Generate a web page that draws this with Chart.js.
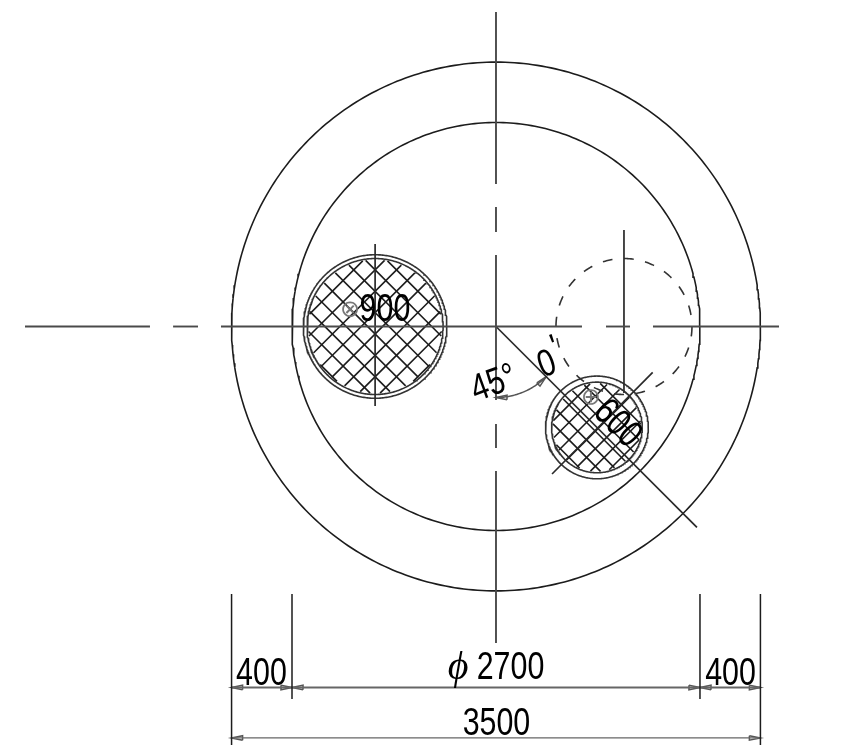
<!DOCTYPE html>
<html>
<head>
<meta charset="utf-8">
<style>
html, body { margin: 0; padding: 0; background: #fff; }
canvas { display: block; }
</style>
<script src="https://cdn.jsdelivr.net/npm/chart.js@4"></script>
</head>
<body>
<canvas id="drawing" width="847" height="747"></canvas>
<script>
// all values are millimetres on the drawing, centre of the tank = 0,0
const shellDiameters = [3500, 2700];
const bigHole = [-800, 0];
const bigHoleDiameters = [950, 900];
const smallHole = [668, -668];
const smallHoleDiameters = [680, 600];
const dashedHole = [847, 0];
const dashedHoleDiameter = 900;
const bigHatchPitch = 100;
const smallHatchPitch = 82;
const bigHatchPhase = [-35, -35];
const smallHatchPhase = [-10, -25];

// centre lines, broken into [from, to] runs
const verticalRuns = [[2081, 943], [791, 625], [473, -486], [-645, -804], [-956, -2095]];
const horizontalRuns = [[-3117, -2290], [-2137, -1972], [-1820, 569], [728, 887], [1039, 1873]];
const otherLines = [
  [[-800, 546], [-800, -526]],
  [[847, 639], [847, -440]],
  [[0, 0], [1330, -1330]],
  [[371, -976], [1037, -303]]
];

const dimX = [-1750, -1350, 1350, 1750];
const dimY = [-2389, -2723];
const extensionTop = -1770;
const extensionBottoms = [-2770, -2465, -2465, -2770];

const arrowX = [-1750, -1350, -1350, 1350, 1350, 1750, -1750, 1750];
const arrowYs = [-2389, -2389, -2389, -2389, -2389, -2389, -2723, -2723];
const arrowAngles = [180, 0, 180, 0, 180, 0, 180, 0];
const angleArcRadius = 470;

const labelTexts = ['400', '400', 'ϕ', '2700', '3500', '900', '⊗', '45°', '0', "'", '600', '⊗'];
const labelX = [-1552, 1552, -251, 96, 3, -735, -966, -13, 338, 395, 801, 622];
const labelY = [-2300, -2300, -2266, -2266, -2631, 109, 103, -381, -255, -150, -645, -473];
const labelAngles = [0, 0, 0, 0, 0, 0, 0, -20, -20, -20, 45, 45];

const INK = '#1c1c1c';
const GREY = '#4a4a4a';

function arc(c, d, fromDeg, toDeg) {
  const pts = [];
  const steps = Math.max(8, Math.round(Math.abs(toDeg - fromDeg)));
  for (let i = 0; i <= steps; i++) {
    const a = (fromDeg + (toDeg - fromDeg) * i / steps) * Math.PI / 180;
    pts.push({ x: c[0] + d / 2 * Math.cos(a), y: c[1] + d / 2 * Math.sin(a) });
  }
  return pts;
}

function line(data, color, width, dash) {
  return {
    data, showLine: true, borderColor: color, borderWidth: width,
    borderDash: dash || [], pointRadius: 0, fill: false, tension: 0
  };
}

// 45 degree hatch lines, cut at the hole's edge
function hatch(c, d, pitch, phase) {
  const out = [];
  const r = d / 2 - 8;
  const u = Math.SQRT1_2;
  [[1, 1], [1, -1]].forEach((dir, k) => {
    const nx = -dir[1] * u, ny = dir[0] * u;
    for (let i = -8; i <= 8; i++) {
      const off = i * pitch + phase[k];
      if (Math.abs(off) >= r) continue;
      const half = Math.sqrt(r * r - off * off);
      out.push(line([
        { x: c[0] + nx * off - dir[0] * u * half, y: c[1] + ny * off - dir[1] * u * half },
        { x: c[0] + nx * off + dir[0] * u * half, y: c[1] + ny * off + dir[1] * u * half }
      ], INK, 1.6));
    }
  });
  return out;
}

function arrow(x, y, deg) {
  const a = deg * Math.PI / 180;
  const len = 73, half = 15;
  const bx = x - len * Math.cos(a), by = y - len * Math.sin(a);
  const px = -Math.sin(a) * half, py = Math.cos(a) * half;
  return line([
    { x: bx + px, y: by + py }, { x, y }, { x: bx - px, y: by - py }, { x: bx + px, y: by + py }
  ], '#555', 1.5);
}

const datasets = [];
verticalRuns.forEach(r => datasets.push(line([{ x: 0, y: r[0] }, { x: 0, y: r[1] }], GREY, 1.9)));
horizontalRuns.forEach(r => datasets.push(line([{ x: r[0], y: 0 }, { x: r[1], y: 0 }], GREY, 1.9)));
otherLines.forEach(l => datasets.push(line(l.map(p => ({ x: p[0], y: p[1] })), '#2a2a2a', 1.7)));

shellDiameters.forEach(d => datasets.push(line(arc([0, 0], d, 0, 360), INK, 1.6)));
bigHoleDiameters.forEach(d => datasets.push(line(arc(bigHole, d, 0, 360), '#333', 1.6)));
smallHoleDiameters.forEach(d => datasets.push(line(arc(smallHole, d, 0, 360), '#333', 1.6)));
datasets.push(line(arc(dashedHole, dashedHoleDiameter, 180, -180), '#333', 1.6, [9.8, 11.56]));
datasets.push(...hatch(bigHole, bigHoleDiameters[1], bigHatchPitch, bigHatchPhase));
datasets.push(...hatch(smallHole, smallHoleDiameters[1], smallHatchPitch, smallHatchPhase));

dimX.forEach((x, i) => datasets.push(line([{ x, y: extensionTop }, { x, y: extensionBottoms[i] }], INK, 1.5)));
dimY.forEach((y, i) => datasets.push(line([{ x: dimX[0], y }, { x: dimX[3], y }], '#666', i === 0 ? 1.9 : 1.3)));
arrowX.forEach((x, i) => datasets.push(arrow(x, arrowYs[i], arrowAngles[i])));

datasets.push(line(arc([0, 0], angleArcRadius * 2, -90, -45), '#555', 1.5));
datasets.push(arrow(0, -angleArcRadius, 180));
datasets.push(arrow(angleArcRadius * Math.SQRT1_2, -angleArcRadius * Math.SQRT1_2, 45));

const labelsPlugin = {
  id: 'drawingLabels',
  afterDatasetsDraw(chart) {
    const { ctx, scales } = chart;
    labelTexts.forEach((t, i) => {
      ctx.save();
      ctx.translate(scales.x.getPixelForValue(labelX[i]), scales.y.getPixelForValue(labelY[i]));
      ctx.rotate(labelAngles[i] * Math.PI / 180);
      ctx.textAlign = 'center';
      ctx.textBaseline = 'middle';
      ctx.fillStyle = '#000';
      if (t === '⊗') {
        ctx.fillStyle = '#777';
        ctx.font = '24px "DejaVu Sans"';
      } else if (t === 'ϕ') {
        ctx.font = 'italic 40px "Liberation Serif"';
      } else {
        // the drawing's lettering is tall and narrow
        ctx.font = '38px "Liberation Sans"';
        ctx.scale(0.8, 1);
      }
      ctx.fillText(t, 0, 0);
      ctx.restore();
    });
  }
};

new Chart(document.getElementById('drawing'), {
  type: 'scatter',
  data: { datasets },
  plugins: [labelsPlugin],
  options: {
    responsive: false,
    animation: false,
    events: [],
    layout: { padding: 0 },
    plugins: { legend: { display: false }, tooltip: { enabled: false } },
    scales: {
      x: { type: 'linear', display: false, min: -3282.5, max: 2323 },
      y: { type: 'linear', display: false, min: -2783, max: 2161 }
    }
  }
});
</script>
</body>
</html>
